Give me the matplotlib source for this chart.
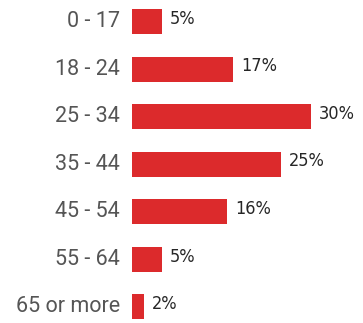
import matplotlib
matplotlib.use("Agg")
import matplotlib.pyplot as plt

# Age distribution of respondents
age_groups = ["0 - 17", "18 - 24", "25 - 34", "35 - 44", "45 - 54", "55 - 64", "65 or more"]
shares = [5, 17, 30, 25, 16, 5, 2]

W, H = 363, 323
fig = plt.figure(figsize=(W / 100, H / 100), dpi=100)
fig.patch.set_facecolor("white")

left_px = 132
px_per_unit = 5.95
ax = fig.add_axes([left_px / W, 0, 1 - left_px / W, 1])
ax.set_xlim(0, (W - left_px) / px_per_unit)
ax.set_ylim(6.34, -0.46)

pos = list(range(len(age_groups)))
ax.barh(pos, shares, height=0.53, color="#dc2a2c", edgecolor="none")

for y, v in zip(pos, shares):
    ax.text(v + 1.4, y - 0.06, f"{v}%", va="center", ha="left",
            fontsize=13, color="#262626", family="DejaVu Sans",
            fontstretch="condensed")

for y, lab in zip(pos, age_groups):
    ax.text(-2.0, y, lab, va="center", ha="right", fontsize=15.5,
            color="#555555", family="Roboto", clip_on=False)

ax.axis("off")
fig.savefig("out.png", dpi=100, facecolor="white")
